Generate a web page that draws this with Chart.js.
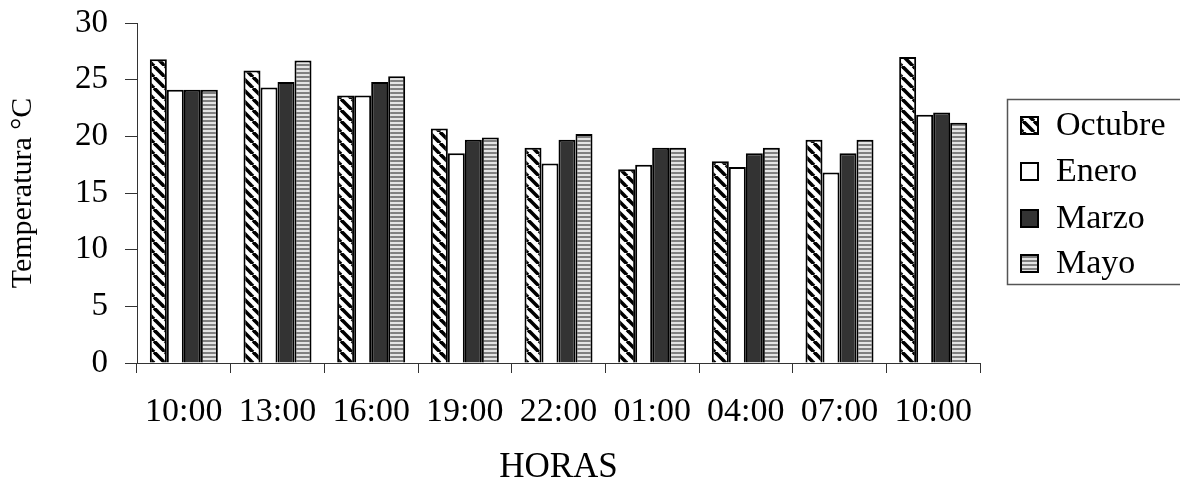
<!DOCTYPE html>
<html>
<head>
<meta charset="utf-8">
<script src="https://cdn.jsdelivr.net/npm/chart.js@4/dist/chart.umd.min.js"></script>
<style>
  html, body { margin: 0; padding: 0; background: #fff; }
  #wrap { width: 1180px; height: 487px; }
</style>
</head>
<body>
<div id="wrap"><canvas id="c" width="1180" height="487"></canvas></div>
<script>
// Hourly temperature readings per sampling month
const horas = ['10:00', '13:00', '16:00', '19:00', '22:00', '01:00', '04:00', '07:00', '10:00'];
const octubre = [26.8, 25.8, 23.6, 20.7, 19.0, 17.1, 17.8, 19.7, 27.0];
const enero   = [24.1, 24.3, 23.6, 18.5, 17.6, 17.5, 17.3, 16.8, 21.9];
const marzo   = [24.1, 24.8, 24.8, 19.7, 19.7, 19.0, 18.5, 18.5, 22.1];
const mayo    = [24.1, 26.7, 25.3, 19.9, 20.2, 19.0, 19.0, 19.7, 21.2];
const yTicks  = [0, 5, 10, 15, 20, 25, 30];

const SERIF = '"Liberation Serif", "Times New Roman", serif';

// Fill patterns
function diagonalPattern() {
  const s = 11;
  const c = document.createElement('canvas');
  c.width = c.height = s;
  const g = c.getContext('2d');
  g.fillStyle = '#fff';
  g.fillRect(0, 0, s, s);
  g.strokeStyle = '#000';
  g.lineWidth = 3.6;
  for (const o of [-s, 0, s]) {
    g.beginPath();
    g.moveTo(o, 0);
    g.lineTo(o + s, s);
    g.stroke();
  }
  return g.createPattern(c, 'repeat');
}
function horizontalPattern() {
  const c = document.createElement('canvas');
  c.width = 4; c.height = 4;
  const g = c.getContext('2d');
  g.fillStyle = '#e4e4e4';
  g.fillRect(0, 0, 4, 4);
  g.fillStyle = '#808080';
  g.fillRect(0, 0, 4, 2);
  return g.createPattern(c, 'repeat');
}

const barStyle = { borderColor: '#000', borderWidth: 2, categoryPercentage: 0.726, barPercentage: 1.0 };

// Boxed legend on the right
const boxedLegend = {
  id: 'boxedLegend',
  afterDraw(chart) {
    const ctx = chart.ctx;
    const x0 = 1007, y0 = 99, h = 185;
    ctx.save();
    ctx.strokeStyle = '#555';
    ctx.lineWidth = 1.5;
    ctx.strokeRect(x0 + 0.5, y0 + 0.5, 200, h);
    const rows = [125, 171, 218, 263];
    ctx.font = '34px ' + SERIF;
    ctx.textBaseline = 'middle';
    ctx.textAlign = 'left';
    chart.data.datasets.forEach((ds, i) => {
      const cy = rows[i];
      ctx.fillStyle = ds.backgroundColor;
      ctx.fillRect(1021, cy - 8, 17, 17);
      ctx.strokeStyle = '#000';
      ctx.lineWidth = 2;
      ctx.strokeRect(1021, cy - 8, 17, 17);
      ctx.fillStyle = '#000';
      ctx.fillText(ds.label, 1056, cy + 1);
    });
    ctx.restore();
  }
};

new Chart(document.getElementById('c'), {
  type: 'bar',
  data: {
    labels: horas,
    datasets: [
      { label: 'Octubre', data: octubre, backgroundColor: diagonalPattern(), ...barStyle },
      { label: 'Enero',   data: enero,   backgroundColor: '#ffffff', ...barStyle },
      { label: 'Marzo',   data: marzo,   backgroundColor: '#333333', ...barStyle },
      { label: 'Mayo',    data: mayo,    backgroundColor: horizontalPattern(), ...barStyle }
    ]
  },
  options: {
    responsive: false,
    animation: false,
    layout: { padding: { left: 0, right: 200, top: 23, bottom: 0 } },
    plugins: { legend: { display: false }, tooltip: { enabled: false } },
    scales: {
      x: {
        grid: { display: true, drawOnChartArea: false, drawTicks: true, tickLength: 10, color: '#333', offset: true },
        border: { display: true, color: '#333', width: 1 },
        ticks: { color: '#000', font: { family: SERIF, size: 34, lineHeight: 1 }, padding: 22, autoSkip: false, maxRotation: 0 },
        title: { display: true, text: 'HORAS', color: '#000', font: { family: SERIF, size: 35, lineHeight: 1 }, padding: { top: 0, bottom: 2 } },
        afterFit(s) { s.height = 124; s.paddingLeft = 0; s.paddingRight = 0; }
      },
      y: {
        min: 0, max: 30,
        afterBuildTicks(s) { s.ticks = yTicks.map(v => ({ value: v })); },
        grid: { display: true, drawOnChartArea: false, drawTicks: true, tickLength: 12, color: '#333' },
        border: { display: true, color: '#333', width: 1 },
        ticks: { color: '#000', font: { family: SERIF, size: 33, lineHeight: 1 }, padding: 17 },
        title: { display: true, text: 'Temperatura °C', color: '#000', font: { family: SERIF, size: 30, lineHeight: 1 }, padding: { top: 8, bottom: 0 } },
        afterFit(s) { s.width = 137; s.paddingTop = 0; s.paddingBottom = 0; }
      }
    }
  },
  plugins: [boxedLegend]
});
</script>
</body>
</html>
